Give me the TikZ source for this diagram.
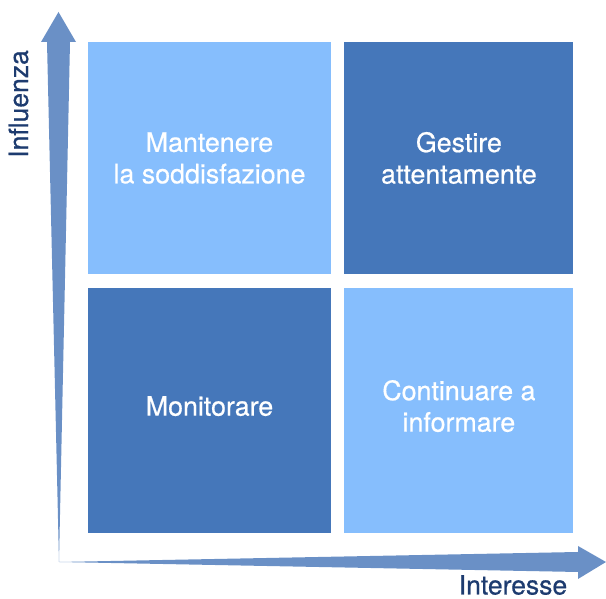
\documentclass[tikz,border=0pt]{standalone}
\usepackage{fontspec}
\setmainfont{TeX Gyre Heros}[FakeBold=0.6]
\usetikzlibrary{positioning}

\definecolor{lightquad}{RGB}{134,190,253}
\definecolor{darkquad}{RGB}{69,119,186}
\definecolor{axisblue}{RGB}{106,144,198}
\definecolor{axistext}{RGB}{29,59,111}

\begin{document}
\begin{tikzpicture}[x=1pt, y=1pt,
    quad/.style={minimum width=243pt, minimum height=232pt, inner sep=0pt,
      align=center, text=white, font=\fontsize{26.8}{31.5}\selectfont},
    axislabel/.style={text=axistext, inner sep=0pt, font=\fontsize{26.5}{31}\selectfont}]
        \useasboundingbox (0,0) rectangle (606,599);
        \coordinate (O) at (59,37);

        \node (TL) [quad, fill=lightquad] at (209.5,441) {Mantenere\\la soddisfazione};
        \node (TR) [quad, fill=darkquad, minimum width=229pt, right=13pt of TL] {Gestire\\attentamente};
        \node (BL) [quad, fill=darkquad, minimum height=245pt, text depth=10pt, below=14pt of TL] {Monitorare};
        \node (BR) [quad, fill=lightquad, minimum width=229pt, minimum height=245pt, text depth=10pt, right=13pt of BL] {Continuare a\\informare};

        % tapered axes
        \fill[axisblue] (O) -- (47,557) -- (41,557) -- (58.5,587) -- (76,557) -- (70,557) -- cycle;
        \fill[axisblue] (O) -- (578,47) -- (578,53) -- (606,37) -- (578,20) -- (578,27) -- cycle;

        \node (Infl) [axislabel, rotate=90, anchor=base] at (28,495) {Influenza};
        \node (Inter) [axislabel, anchor=base] at (513,4.5) {Interesse};

        \end{tikzpicture}
\end{document}
